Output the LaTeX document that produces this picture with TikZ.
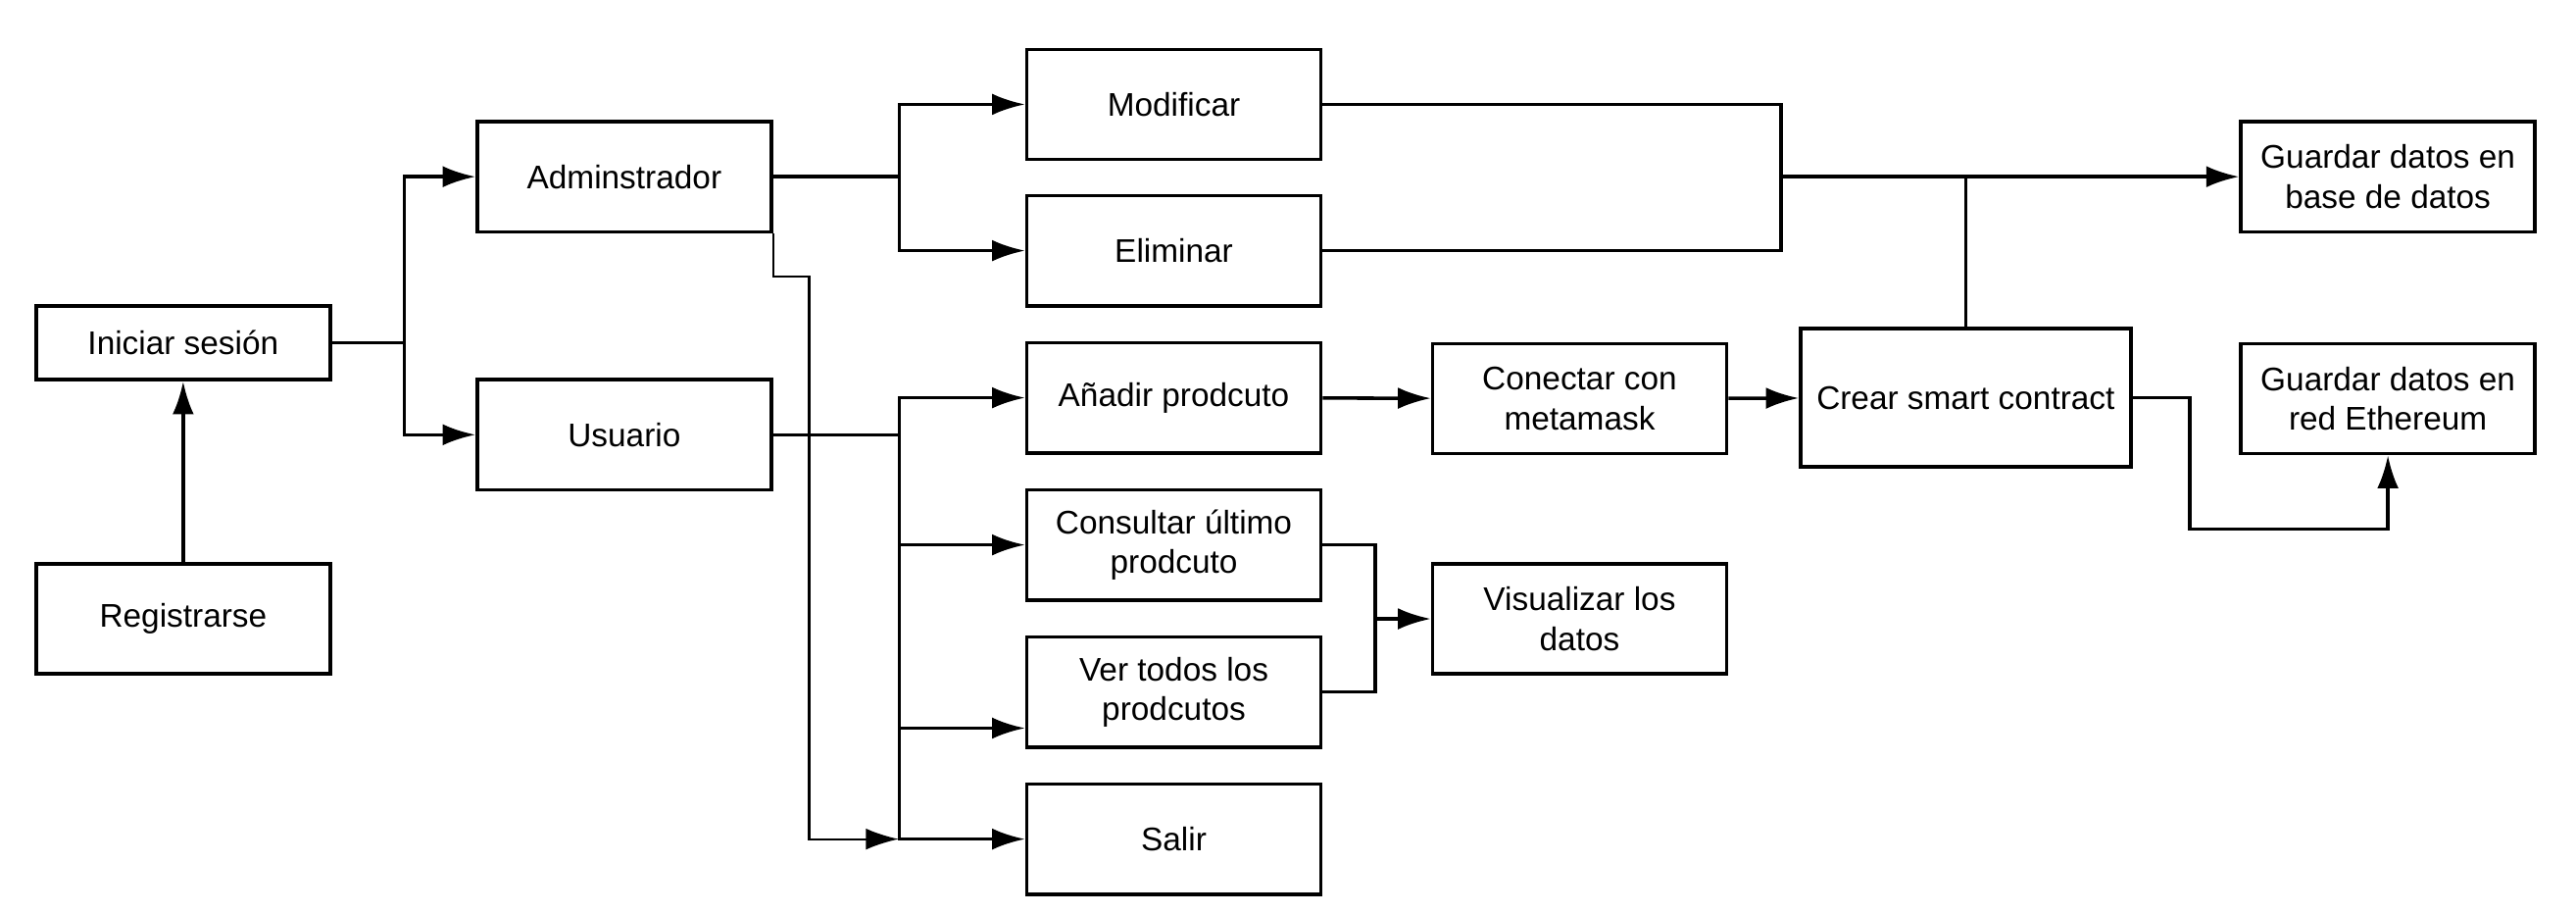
\documentclass[tikz,border=0pt]{standalone}
\usepackage{fontspec}
\setmainfont{Liberation Sans}
\usetikzlibrary{arrows.meta}

\tikzset{
    every block/.style={draw, line width=1.8pt, inner sep=2pt, align=center,
        minimum width=5.37cm, minimum height=2.01cm,
        font=\fontsize{17}{20.5}\selectfont},
    block short/.style={minimum height=1.35cm},
    block large/.style={minimum width=6.03cm, minimum height=2.52cm},
    every link/.style={line width=1.8pt},
    thin link/.style={line width=1.1pt}
}

\begin{document}
\begin{tikzpicture}[x=0.03cm, y=-0.03cm, >={Latex[length=0.6cm, width=0.39cm]}]
        \fill [white] (0,0) rectangle (1568,556);

        %%%%%%%%%%%%%%%%%%%%%%%%%%%%%%%%%%%%%%%%%%%%
        % Login nodes
        %%%%%%%%%%%%%%%%%%%%%%%%%%%%%%%%%%%%%%%%%%%%
        
        % Drawing
        \node [every block, block short] (login) at (111.5,208.5) {Iniciar sesión};
        \node [every block] (register) at (111.5,376.5) {Registrarse};
        
        % Connecting
        \draw [every link, ->] (register) -- (login);
        
        
        %%%%%%%%%%%%%%%%%%%%%%%%%%%%%%%%%%%%%%%%%%%%
        % Role nodes
        %%%%%%%%%%%%%%%%%%%%%%%%%%%%%%%%%%%%%%%%%%%%
        
        % Drawing
        \foreach \m/\l/\y in {admin/Adminstrador/107.5, user/Usuario/264.5}
            \node [every block] (role-\m) at (380,\y) {\l};
        
        % Connecting
        \foreach \m in {admin, user}
            \draw [every link, ->] (login.east) -- ++(44,0) |- (role-\m);
        
        
        %%%%%%%%%%%%%%%%%%%%%%%%%%%%%%%%%%%%%%%%%%%%
        % Admin options
        %%%%%%%%%%%%%%%%%%%%%%%%%%%%%%%%%%%%%%%%%%%%
        
        % Drawing
        \foreach \l [count=\i] in {Modificar, Eliminar}
            \node [every block] (admin-\i) at (714.5,-25.5+89*\i) {\l};
        
        % Connecting
        \foreach \i in {1,2}
            \draw [every link, ->] (role-admin.east) -- ++(77,0) |- (admin-\i);
        
        
        %%%%%%%%%%%%%%%%%%%%%%%%%%%%%%%%%%%%%%%%%%%%
        % User options
        %%%%%%%%%%%%%%%%%%%%%%%%%%%%%%%%%%%%%%%%%%%%
        
        % Drawing
        \foreach \l [count=\i] in {{Añadir prodcuto}, {Consultar último\\prodcuto},
                {Ver todos los\\prodcutos}, Salir}
            \node [every block] (user-\i) at (714.5,152.5+89.5*\i) {\l};
        
        % Connecting
        \foreach \i in {1,2,4}
            \draw [every link, ->] (role-user.east) -- ++(77,0) |- (user-\i);
        \draw [every link, ->] (role-user.east) -- ++(77,0) |- ([yshift=-0.66cm]user-3.west);
        
        % Admin can also exit
        \coordinate (exit-join) at (547,510.5);
        \draw [every link, thin link, ->] (role-admin.south east) |- ++(22,26) |- (exit-join);
        
        
        %%%%%%%%%%%%%%%%%%%%%%%%%%%%%%%%%%%%%%%%%%%%
        % Contract and storage
        %%%%%%%%%%%%%%%%%%%%%%%%%%%%%%%%%%%%%%%%%%%%
        
        % Drawing
        \node [every block] (meta) at (961.5,242.5) {Conectar con\\metamask};
        \node [every block] (view) at (961.5,376.5) {Visualizar los\\datos};
        \node [every block, block large] (contract) at (1196.5,242) {Crear smart contract};
        \foreach \m/\l/\y in {db/{base de datos}/107.5, eth/{red Ethereum}/242.5}
            \node [every block] (save-\m) at (1453.5,\y) {Guardar datos en\\\l};
        
        % Connecting
        \draw [every link, ->] (user-1) -- (meta);
        \draw [every link, ->] (meta) -- (contract);
        
        \coordinate (view-join) at (837,376.5);
        \foreach \i in {2,3}
            \draw [every link] (user-\i.east) -| (view-join);
        \draw [every link, ->] (view-join) -- (view);
        
        \coordinate (db-join) at (1084,107.5);
        \foreach \i in {1,2}
            \draw [every link] (admin-\i.east) -| (db-join);
        \draw [every link, ->] (db-join) -- (save-db);
        \draw [every link] (contract.north) -- (contract.north |- db-join);
        
        \draw [every link, ->] (contract.east) -| ++(35,80) -| (save-eth.south);
    \end{tikzpicture}
\end{document}
